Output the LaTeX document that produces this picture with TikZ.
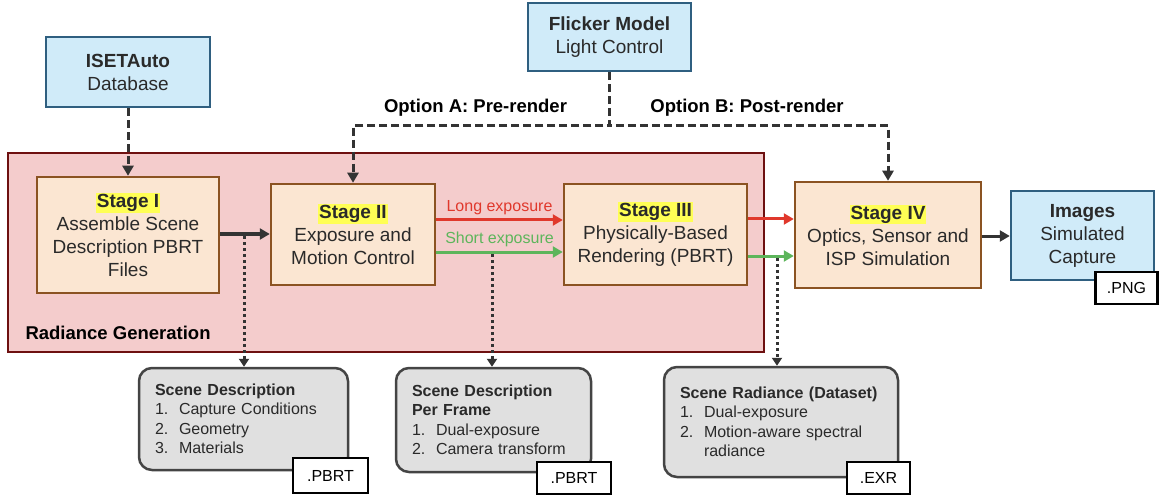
\documentclass[tikz,border=0pt]{standalone}
\usepackage{fontspec}
\setmainfont{Liberation Sans}
\usetikzlibrary{arrows.meta}
\definecolor{bluef}{HTML}{D0EBF9}
\definecolor{bluebd}{HTML}{2F5F80}
\definecolor{stagef}{HTML}{FBE6D2}
\definecolor{brownbd}{HTML}{8B5322}
\definecolor{rgf}{HTML}{F4CCCC}
\definecolor{rgbd}{HTML}{6E1010}
\definecolor{grayf}{HTML}{E0E0E0}
\definecolor{graybd}{HTML}{444444}
\definecolor{redarr}{HTML}{E0382C}
\definecolor{greenarr}{HTML}{5DB55B}
\definecolor{hly}{HTML}{FFFF55}
\definecolor{txt}{HTML}{2A2A2A}
\definecolor{darr}{HTML}{333333}
\newcommand\stagehl[1]{{\setlength\fboxsep{1pt}\colorbox{hly}{\textbf{#1}}}}
\newcommand\itm[1]{\makebox[24pt][l]{#1}}
\begin{document}
\begin{tikzpicture}[x=1pt,y=-1pt,
  bigfont/.style={font=\fontsize{19}{23}\selectfont},
  smallfont/.style={font=\fontsize{16}{19.5}\selectfont},
  bluebox/.style={draw=bluebd, fill=bluef, line width=2.5pt, align=center, bigfont, text=txt, inner sep=0pt},
  stagebox/.style={draw=brownbd, fill=stagef, line width=2.5pt, align=center, bigfont, text=txt, inner sep=0pt},
  graybox/.style={draw=graybd, fill=grayf, line width=2.5pt, rounded corners=13pt, align=left, smallfont, text=txt, inner xsep=16pt, inner ysep=0pt},
  tagbox/.style={draw=black, fill=white, line width=2.5pt, smallfont, text=black, inner sep=0pt},
  solidarr/.style={line width=3pt, -{Triangle[length=10pt,width=11pt]}},
  dsharr/.style={draw=darr, line width=3pt, dash pattern=on 8pt off 4pt, -{Triangle[length=10pt,width=11pt]}},
  dotarr/.style={draw=darr, line width=3pt, dash pattern=on 3pt off 3pt, -{Triangle[length=8pt,width=10pt]}},
  optlabel/.style={font=\fontsize{18.5}{22}\selectfont\bfseries, text=black},
  explabel/.style={font=\fontsize{16}{19}\selectfont}
]
\useasboundingbox (0,0) rectangle (1159,497);
% radiance generation group
\node[draw=rgbd, fill=rgf, line width=2.5pt, minimum width=756pt, minimum height=199pt, inner sep=0pt] (rg) at (386,252.5) {};
\node[anchor=west, optlabel] (rgl) at (22,333) {Radiance Generation};
% top boxes
\node[bluebox, minimum width=164pt, minimum height=70pt] (iset) at (128,72) {\textbf{ISETAuto}\\Database};
\node[bluebox, minimum width=163pt, minimum height=68pt] (fl) at (609.5,37) {\textbf{Flicker Model}\\Light Control};
% stages
\node[stagebox, minimum width=182pt, minimum height=116pt] (s1) at (128,235) {\stagehl{Stage I}\\Assemble Scene\\Description PBRT\\Files};
\node[stagebox, minimum width=164pt, minimum height=101pt] (s2) at (353,234.5) {\stagehl{Stage II}\\Exposure and\\Motion Control};
\node[stagebox, minimum width=183pt, minimum height=101pt] (s3) at (655.5,234.5) {\stagehl{Stage III}\\Physically-Based\\Rendering (PBRT)};
\node[stagebox, minimum width=186pt, minimum height=106pt] (s4) at (888,235) {\stagehl{Stage IV}\\Optics, Sensor and\\ISP Simulation};
\node[bluebox, minimum width=143pt, minimum height=89pt] (img) at (1082.5,235.5) {\textbf{Images}\\Simulated\\Capture};
\node[tagbox, minimum width=62pt, minimum height=32pt] (png) at (1126.5,288) {.PNG};
% bottom boxes
\node[graybox, minimum width=209pt, minimum height=102pt, text width=177pt] (b1) at (243.5,419) {\textbf{Scene Description}\\\itm{1.}Capture Conditions\\\itm{2.}Geometry\\\itm{3.}Materials};
\node[graybox, minimum width=195pt, minimum height=104pt, text width=163pt] (b2) at (493.5,420) {\textbf{Scene Description}\\\textbf{Per Frame}\\\itm{1.}Dual-exposure\\\itm{2.}Camera transform};
\node[graybox, minimum width=234pt, minimum height=110pt, text width=202pt] (b3) at (781,422) {\textbf{Scene Radiance (Dataset)}\\\itm{1.}Dual-exposure\\\itm{2.}Motion-aware spectral\\\itm{}radiance};
\node[tagbox, minimum width=75pt, minimum height=35pt] (t1) at (330.5,475.5) {.PBRT};
\node[tagbox, minimum width=74pt, minimum height=32pt] (t2) at (574,478) {.PBRT};
\node[tagbox, minimum width=63pt, minimum height=32pt] (t3) at (878.5,478) {.EXR};
% option labels
\node[optlabel] (oa) at (475.5,108) {Option A: Pre-render};
\node[optlabel] (ob) at (747,108) {Option B: Post-render};
\coordinate (yA) at (0,126);
% dashed connectors
\draw[dsharr] (iset.south) -- (s1.north);
\draw[dsharr] (fl.south) |- (s2.north |- yA) -- (s2.north);
\draw[dsharr] (fl.south) |- (s4.north |- yA) -- (s4.north);
% solid connectors
\draw[solidarr, draw=darr] (s1.east |- 0,234) -- (s2.west |- 0,234);
\draw[solidarr, draw=redarr] ([yshift=14.5pt]s2.east) -- ([yshift=14.5pt]s2.east -| s3.west)
  node[midway, above=0pt, explabel, text=redarr] (le) {Long exposure};
\draw[solidarr, draw=greenarr] ([yshift=-17.5pt]s2.east) -- ([yshift=-17.5pt]s2.east -| s3.west)
  node[midway, above=0pt, explabel, text=greenarr] (se) {Short exposure};
\draw[solidarr, draw=redarr] ([yshift=15.5pt]s3.east) -- ([yshift=15.5pt]s3.east -| s4.west);
\draw[solidarr, draw=greenarr] ([yshift=-21.5pt]s3.east) -- ([yshift=-21.5pt]s3.east -| s4.west);
\draw[solidarr, draw=darr] (s4.east |- 0,236) -- (img.west |- 0,236);
% dotted connectors
\coordinate (d1) at (244,236);
\coordinate (d2) at (492,254);
\coordinate (d3) at (777,258);
\draw[dotarr] (d1) -- (d1 |- b1.north);
\draw[dotarr] (d2) -- (d2 |- b2.north);
\draw[dotarr] (d3) -- (d3 |- b3.north);
\end{tikzpicture}
\end{document}
